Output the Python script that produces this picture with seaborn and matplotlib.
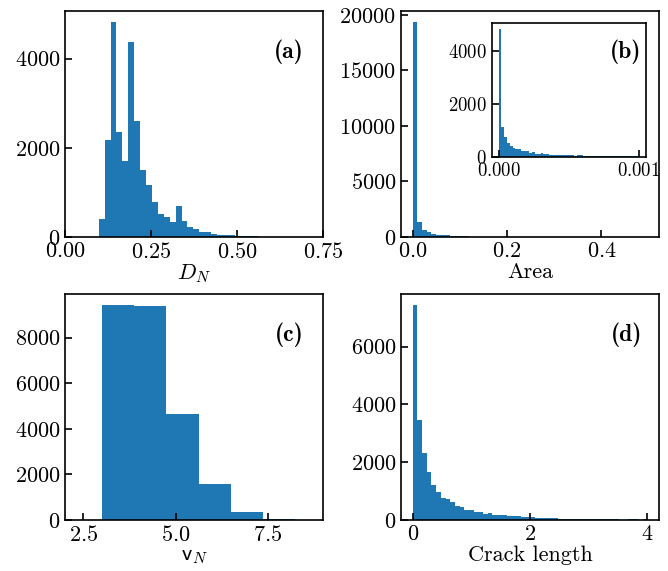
import numpy as np
import pandas as pd
import matplotlib.pyplot as plt
import seaborn as sns

# histogram counts (bin edges given by start / width / count)
dn_start, dn_width = 0.098, 0.0172
dn_counts = [404, 2180, 4831, 2359, 1708, 4382, 2607, 1506, 1168, 780,
             512, 438, 326, 693, 355, 220, 168, 110, 105, 60,
             40, 38, 36, 16, 15, 14, 12, 0, 0, 0,
             0, 0, 0, 0, 0, 0, 0, 0]

area_max = 0.497
area_counts = [19390, 1330, 600, 420, 270, 150, 150, 150, 90, 90,
               90, 90, 35, 30, 25, 20, 18, 15, 12, 10,
               10, 8, 8, 6, 6, 5, 5, 4, 4, 3,
               3, 3, 2, 2, 2, 2, 1, 1, 1, 1,
               1, 1, 1, 1, 1, 1, 1, 1, 1, 1]

inset_max = 0.001
inset_counts = [4830, 1150, 775, 525, 400, 350, 300, 287, 225, 225,
                225, 150, 187, 125, 125, 150, 112, 100, 75, 75,
                70, 70, 70, 70, 70, 62, 62, 50, 62, 62,
                50, 50, 50, 50, 50, 45, 45, 45, 45, 38,
                38, 38, 25, 38, 38, 38, 38, 38, 38, 45]

vn_start, vn_width = 3.0, 0.875
vn_counts = [9450, 9405, 4659, 1597, 366, 44, 5]

crack_max = 4.0
crack_counts = [7456, 3468, 2330, 1675, 1221, 977, 768, 733, 628, 488,
                454, 349, 349, 279, 279, 209, 244, 174, 174, 174,
                140, 140, 140, 105, 105, 93, 70, 70, 70, 70,
                70, 35, 35, 35, 35, 35, 35, 35, 35, 35,
                35, 35, 35, 35, 8, 8, 35, 35, 5, 35]

BLUE = '#1f77b4'

plt.rcParams.update({
    'font.family': 'cmr10',
    'mathtext.fontset': 'cm',
    'axes.formatter.use_mathtext': True,
    'font.size': 16,
    'axes.linewidth': 1.2,
    'xtick.direction': 'in',
    'ytick.direction': 'in',
    'xtick.major.size': 5,
    'ytick.major.size': 5,
    'xtick.major.width': 1.2,
    'ytick.major.width': 1.2,
})


def draw_hist(ax, counts, edges):
    df = pd.DataFrame({'x': (edges[:-1] + edges[1:]) / 2, 'n': counts})
    sns.histplot(data=df, x='x', weights='n', bins=list(edges), ax=ax,
                 color=BLUE, alpha=1, linewidth=0)
    ax.set_ylabel('')
    ax.set_xlabel('')


fig, axes = plt.subplots(2, 2, figsize=(6.68, 5.71), dpi=100)
fig.subplots_adjust(left=0.0973, right=0.9865, top=0.981, bottom=0.0893,
                    wspace=0.302, hspace=0.252)
ax_a, ax_b, ax_c, ax_d = axes.flat

# (a)
draw_hist(ax_a, dn_counts, dn_start + dn_width * np.arange(len(dn_counts) + 1))
ax_a.set_xlim(0, 0.75)
ax_a.set_xticks([0, 0.25, 0.5, 0.75])
ax_a.set_yticks([0, 2000, 4000])
ax_a.set_xlabel(r'$D_N$', labelpad=0)

# (b)
draw_hist(ax_b, area_counts, np.linspace(0, area_max, len(area_counts) + 1))
ax_b.set_xticks([0, 0.2, 0.4])
ax_b.set_yticks([0, 5000, 10000, 15000, 20000])
ax_b.set_xlabel('Area', labelpad=1)

# (c)
draw_hist(ax_c, vn_counts, vn_start + vn_width * np.arange(len(vn_counts) + 1))
ax_c.set_xlim(2, 9)
ax_c.set_xticks([2.5, 5.0, 7.5])
ax_c.set_yticks([0, 2000, 4000, 6000, 8000])
ax_c.set_xlabel(r'$\mathsf{v}_N$', labelpad=1)

# (d)
draw_hist(ax_d, crack_counts, np.linspace(0, crack_max, len(crack_counts) + 1))
ax_d.set_xticks([0, 2, 4])
ax_d.set_yticks([0, 2000, 4000, 6000])
ax_d.set_xlabel('Crack length', labelpad=1)

for ax, lab, xr in zip([ax_a, ax_c, ax_d], ['(a)', '(c)', '(d)'], [0.926, 0.926, 0.934]):
    ax.text(xr, 0.82, lab, transform=ax.transAxes, family='cmb10',
            ha='right', va='center', fontsize=17)

# inset of (b)
ax_in = fig.add_axes([0.736, 0.725, 0.2305, 0.2352])
draw_hist(ax_in, inset_counts, np.linspace(0, inset_max, len(inset_counts) + 1))
ax_in.set_xticks([0, 0.001])
ax_in.set_yticks([0, 2000, 4000])
ax_in.tick_params(labelsize=13.5)
ax_in.text(0.974, 0.785, '(b)', transform=ax_in.transAxes, family='cmb10',
           ha='right', va='center', fontsize=17)

fig.savefig('out.png', dpi=100)
